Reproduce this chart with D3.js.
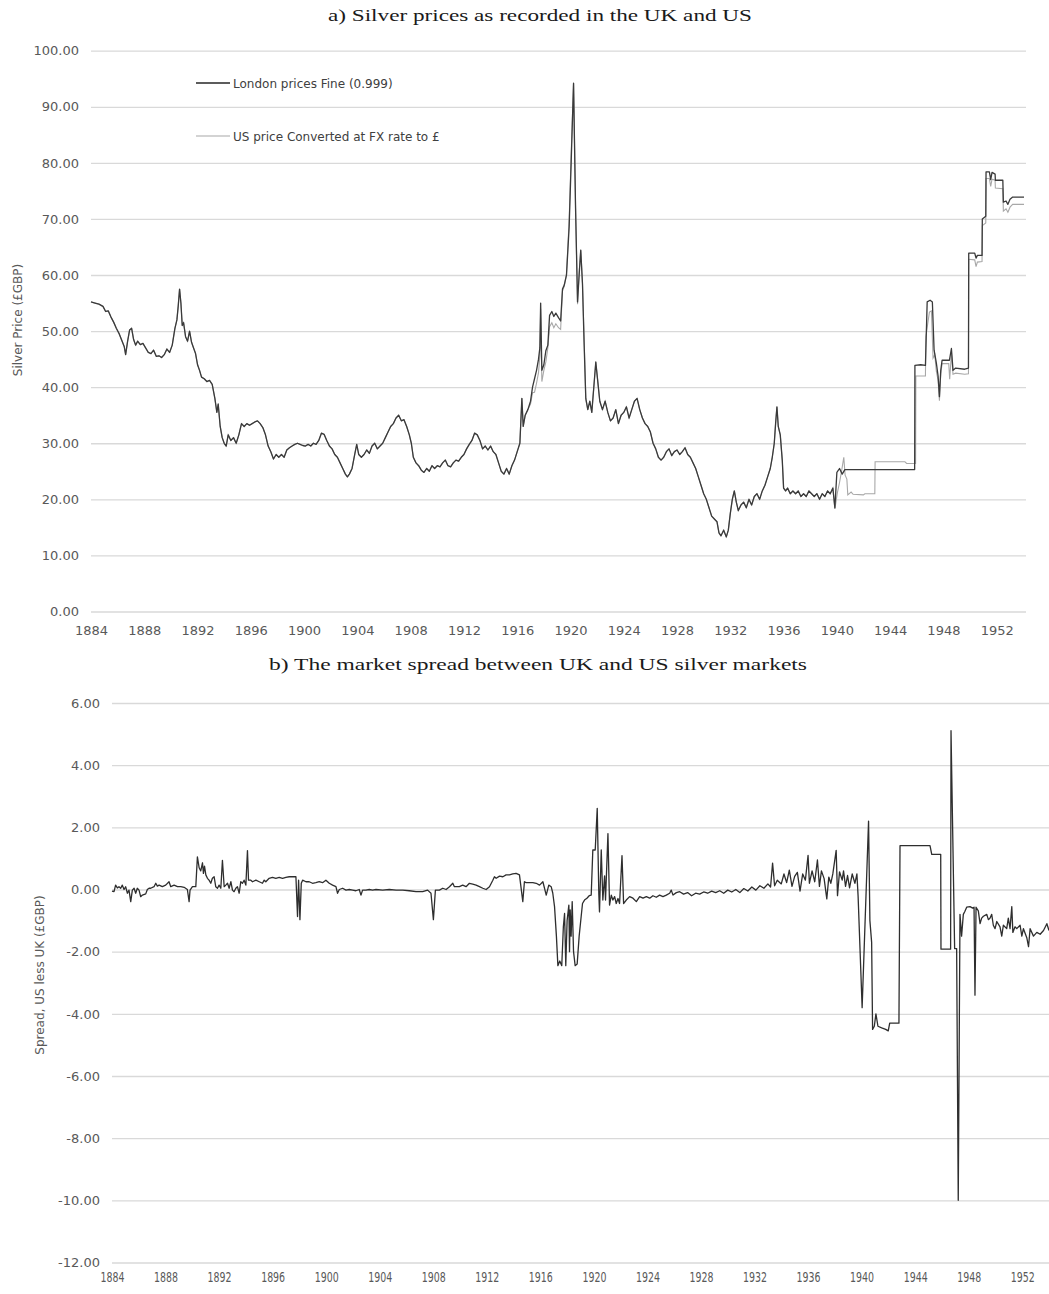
<!DOCTYPE html>
<html><head><meta charset="utf-8">
<script src="https://cdn.jsdelivr.net/npm/d3@7/dist/d3.min.js"></script>
<style>body{margin:0;background:#fff}svg{display:block}</style>
</head><body>
<svg id="chart" width="1049" height="1294"></svg>
<script>
// ---------- DATA ----------
const yearTicks = [1884,1888,1892,1896,1900,1904,1908,1912,1916,1920,1924,1928,1932,1936,1940,1944,1948,1952];
const priceTicks = [0,10,20,30,40,50,60,70,80,90,100];
const spreadTicks = [-12,-10,-8,-6,-4,-2,0,2,4,6];
const seriesNames = ["London prices Fine (0.999)", "US price Converted at FX rate to £"];

const ukDates = [
1884.0,1884.3,1884.6,1884.9,1885.1,1885.3,1885.5,1885.7,1885.9,1886.1,
1886.3,1886.5,1886.6,1886.75,1886.9,1887.05,1887.2,1887.35,1887.5,1887.7,
1887.9,1888.1,1888.3,1888.5,1888.7,1888.9,1889.1,1889.3,1889.5,1889.7,
1889.9,1890.1,1890.3,1890.45,1890.55,1890.65,1890.75,1890.85,1890.95,1891.1,
1891.25,1891.4,1891.55,1891.7,1891.85,1892.0,1892.15,1892.3,1892.5,1892.7,
1892.9,1893.1,1893.3,1893.45,1893.55,1893.7,1893.85,1894.0,1894.15,1894.3,
1894.5,1894.7,1894.9,1895.1,1895.3,1895.5,1895.7,1895.9,1896.1,1896.3,
1896.5,1896.7,1896.9,1897.1,1897.3,1897.5,1897.7,1897.9,1898.1,1898.3,
1898.5,1898.7,1898.9,1899.1,1899.3,1899.5,1899.7,1899.9,1900.1,1900.3,
1900.5,1900.7,1900.9,1901.1,1901.3,1901.5,1901.7,1901.9,1902.1,1902.3,
1902.5,1902.7,1902.9,1903.1,1903.25,1903.4,1903.6,1903.8,1903.95,1904.1,
1904.3,1904.5,1904.7,1904.9,1905.1,1905.3,1905.5,1905.7,1905.9,1906.1,
1906.3,1906.5,1906.7,1906.9,1907.1,1907.3,1907.5,1907.7,1907.9,1908.05,
1908.2,1908.4,1908.6,1908.8,1909.0,1909.2,1909.4,1909.6,1909.8,1910.0,
1910.2,1910.4,1910.6,1910.8,1911.0,1911.2,1911.4,1911.6,1911.8,1912.0,
1912.2,1912.4,1912.6,1912.8,1913.0,1913.2,1913.4,1913.6,1913.8,1914.0,
1914.2,1914.4,1914.6,1914.8,1915.0,1915.2,1915.4,1915.6,1915.8,1916.0,
1916.2,1916.35,1916.45,1916.6,1916.8,
1917.0,1917.15,1917.3,1917.45,1917.6,1917.7,1917.76,1917.85,1918.0,1918.15,
1918.3,1918.43,1918.6,1918.75,1918.9,1919.1,1919.26,1919.4,1919.53,1919.7,
1919.9,1920.05,1920.23,1920.38,1920.53,1920.65,1920.77,1920.9,1921.02,1921.15,
1921.3,1921.45,1921.6,1921.75,1921.9,1922.05,1922.2,1922.4,1922.6,1922.8,
1923.0,1923.2,1923.4,1923.6,1923.8,1924.0,1924.2,1924.4,1924.6,1924.8,
1925.0,1925.2,1925.4,1925.6,1925.8,1926.0,1926.2,1926.4,1926.6,1926.8,
1927.0,1927.2,1927.4,1927.6,1927.8,1928.0,1928.2,1928.4,1928.6,1928.8,
1929.0,1929.2,1929.4,1929.6,1929.8,1930.0,1930.2,1930.4,1930.6,1930.8,
1931.0,1931.15,1931.3,1931.5,1931.7,1931.85,1932.0,1932.15,1932.3,1932.45,
1932.6,1932.8,1933.0,1933.2,1933.4,1933.6,1933.8,1934.0,1934.2,1934.4,
1934.6,1934.8,1935.0,1935.15,1935.3,1935.4,1935.5,1935.6,1935.75,1935.9,
1936.0,1936.15,1936.3,1936.5,1936.7,1936.9,1937.1,1937.3,1937.5,1937.7,
1937.9,1938.1,1938.3,1938.5,1938.7,1938.9,1939.1,1939.3,1939.5,1939.7,
1939.85,1940.0,1940.2,1940.4,1940.6,1942.0,1943.5,1945.84,1945.86,1946.3,
1946.65,1946.78,1947.0,1947.17,1947.3,1947.47,1947.6,1947.7,1947.8,1947.9,
1948.45,1948.6,1948.72,1948.92,1949.6,1949.88,1949.9,1950.35,1950.45,1950.55,
1950.9,1950.92,1951.18,1951.2,1951.45,1951.55,1951.65,1951.88,1951.9,1952.46,
1952.5,1952.7,1952.84,1953.0,1953.2,1954.05];
const ukPrice = [
55.2,55.0,54.8,54.4,53.5,53.6,52.5,51.6,50.5,49.6,
48.4,47.2,45.8,48.2,50.2,50.5,48.5,47.5,48.2,47.6,
47.8,47.0,46.2,46.0,46.6,45.5,45.6,45.3,45.8,46.8,
46.2,47.5,50.5,52.0,54.5,57.5,55.0,51.0,51.5,49.0,
48.2,50.0,48.0,47.0,46.0,44.0,43.0,41.8,41.5,41.0,
41.2,40.5,38.0,35.5,37.0,33.0,31.0,30.0,29.5,31.5,
30.5,31.0,30.0,31.5,33.5,33.0,33.5,33.2,33.5,33.8,
34.0,33.5,32.8,31.5,29.5,28.5,27.2,28.0,27.5,28.0,
27.5,28.8,29.2,29.5,29.8,30.0,29.8,29.6,29.5,29.8,
29.5,30.0,29.8,30.5,31.8,31.6,30.5,29.5,29.0,28.0,
27.5,26.5,25.5,24.5,24.0,24.5,25.5,28.0,29.8,28.0,
27.5,28.0,28.8,28.2,29.5,30.0,29.0,29.5,30.0,31.0,
32.0,33.0,33.5,34.5,35.0,34.0,34.2,33.0,31.5,30.0,
27.5,26.5,26.0,25.2,24.8,25.5,25.0,26.0,25.5,26.0,
25.8,26.5,27.0,26.0,25.8,26.5,27.0,26.8,27.5,28.0,
29.0,29.8,30.5,31.8,31.5,30.5,29.0,29.5,28.8,29.5,
28.5,28.0,26.5,25.0,24.5,25.5,24.5,26.0,27.0,28.5,
30.0,38.0,33.0,35.0,36.0,
37.5,40.0,41.5,43.0,45.0,47.0,55.0,43.0,44.0,46.5,
47.5,52.8,53.5,52.6,53.2,52.4,51.8,57.5,58.2,60.0,
68.6,80.0,94.2,72.0,55.2,60.0,64.4,58.5,48.0,38.0,
36.0,37.5,35.5,40.0,44.5,41.0,37.5,36.0,37.5,35.5,
34.0,34.5,36.0,33.5,35.0,35.5,36.5,34.5,36.0,37.5,
38.0,36.0,34.5,33.5,33.0,32.0,30.0,29.0,27.5,27.0,
27.5,28.5,29.0,27.8,28.5,28.8,28.0,28.5,29.2,28.0,
27.5,26.5,25.5,24.0,22.5,21.0,20.0,18.5,17.0,16.5,
16.0,14.0,13.5,14.5,13.3,14.5,17.5,20.0,21.5,19.5,
18.0,19.0,19.5,18.5,20.0,19.0,20.5,21.0,20.0,21.5,
22.5,24.0,25.5,27.5,30.0,33.5,36.5,33.0,31.5,27.0,
22.0,21.5,22.0,21.0,21.5,21.0,21.5,20.5,21.0,20.5,
21.5,21.0,20.5,21.0,20.0,21.0,20.5,21.5,21.0,22.0,
18.5,24.8,25.5,24.5,25.3,25.3,25.3,25.3,43.9,44.0,
43.9,55.2,55.5,55.2,46.6,44.3,42.0,38.3,43.0,44.8,
44.8,46.9,43.0,43.4,43.2,43.4,63.9,63.9,63.0,63.5,
63.5,70.0,70.5,78.4,78.4,77.0,78.3,78.0,76.9,76.9,
73.0,73.2,72.6,73.5,73.9,73.9];

const usDates = [
1884.0,1884.3,1884.6,1884.9,1885.1,1885.3,1885.5,1885.7,1885.9,1886.1,
1886.3,1886.5,1886.6,1886.75,1886.9,1887.05,1887.2,1887.35,1887.5,1887.7,
1887.9,1888.1,1888.3,1888.5,1888.7,1888.9,1889.1,1889.3,1889.5,1889.7,
1889.9,1890.1,1890.3,1890.45,1890.55,1890.65,1890.75,1890.85,1890.95,1891.1,
1891.25,1891.4,1891.55,1891.7,1891.85,1892.0,1892.15,1892.3,1892.5,1892.7,
1892.9,1893.1,1893.3,1893.45,1893.55,1893.7,1893.85,1894.0,1894.15,1894.3,
1894.5,1894.7,1894.9,1895.1,1895.3,1895.5,1895.7,1895.9,1896.1,1896.3,
1896.5,1896.7,1896.9,1897.1,1897.3,1897.5,1897.7,1897.9,1898.1,1898.3,
1898.5,1898.7,1898.9,1899.1,1899.3,1899.5,1899.7,1899.9,1900.1,1900.3,
1900.5,1900.7,1900.9,1901.1,1901.3,1901.5,1901.7,1901.9,1902.1,1902.3,
1902.5,1902.7,1902.9,1903.1,1903.25,1903.4,1903.6,1903.8,1903.95,1904.1,
1904.3,1904.5,1904.7,1904.9,1905.1,1905.3,1905.5,1905.7,1905.9,1906.1,
1906.3,1906.5,1906.7,1906.9,1907.1,1907.3,1907.5,1907.7,1907.9,1908.05,
1908.2,1908.4,1908.6,1908.8,1909.0,1909.2,1909.4,1909.6,1909.8,1910.0,
1910.2,1910.4,1910.6,1910.8,1911.0,1911.2,1911.4,1911.6,1911.8,1912.0,
1912.2,1912.4,1912.6,1912.8,1913.0,1913.2,1913.4,1913.6,1913.8,1914.0,
1914.2,1914.4,1914.6,1914.8,1915.0,1915.2,1915.4,1915.6,1915.8,1916.0,
1916.2,1916.35,1916.45,1916.6,1916.8,
1917.0,1917.15,1917.3,1917.45,1917.6,1917.7,1917.76,1917.85,1918.0,1918.15,
1918.3,1918.43,1918.6,1918.75,1918.9,1919.1,1919.26,1919.4,1919.53,1919.7,
1919.9,1920.05,1920.23,1920.38,1920.53,1920.65,1920.77,1920.9,1921.02,1921.15,
1921.3,1921.45,1921.6,1921.75,1921.9,1922.05,1922.2,1922.4,1922.6,1922.8,
1923.0,1923.2,1923.4,1923.6,1923.8,1924.0,1924.2,1924.4,1924.6,1924.8,
1925.0,1925.2,1925.4,1925.6,1925.8,1926.0,1926.2,1926.4,1926.6,1926.8,
1927.0,1927.2,1927.4,1927.6,1927.8,1928.0,1928.2,1928.4,1928.6,1928.8,
1929.0,1929.2,1929.4,1929.6,1929.8,1930.0,1930.2,1930.4,1930.6,1930.8,
1931.0,1931.15,1931.3,1931.5,1931.7,1931.85,1932.0,1932.15,1932.3,1932.45,
1932.6,1932.8,1933.0,1933.2,1933.4,1933.6,1933.8,1934.0,1934.2,1934.4,
1934.6,1934.8,1935.0,1935.15,1935.3,1935.4,1935.5,1935.6,1935.75,1935.9,
1936.0,1936.15,1936.3,1936.5,1936.7,1936.9,1937.1,1937.3,1937.5,1937.7,
1937.9,1938.1,1938.3,1938.5,1938.7,1938.9,1939.1,1939.3,1939.5,1939.7,
1939.85,1940.04,1940.2,1940.35,1940.52,1940.62,1940.75,1940.82,1941.07,1941.22,
1941.99,1942.1,1942.85,1942.87,1945.11,1945.24,1945.91,1945.93,1946.65,1946.68,
1946.95,1947.1,1947.22,1947.35,1947.47,1947.6,1947.7,1947.8,1947.9,1948.4,
1948.47,1948.55,1948.6,1948.72,1948.92,1949.6,1949.88,1949.9,1950.35,1950.45,
1950.55,1950.9,1950.92,1951.18,1951.2,1951.45,1951.55,1951.65,1951.88,1951.9,
1952.46,1952.5,1952.7,1952.84,1953.0,1953.2,1954.05];
const usPrice = [
55.2,55.0,54.8,54.4,53.5,53.6,52.5,51.6,50.5,49.6,
48.4,47.2,45.8,48.2,50.2,50.5,48.5,47.5,48.2,47.6,
47.8,47.0,46.2,46.0,46.6,45.5,45.6,45.3,45.8,46.8,
46.2,47.5,50.5,52.0,54.5,57.5,55.0,51.0,51.5,49.0,
48.2,50.0,48.0,47.0,46.0,44.0,43.0,41.8,41.5,41.0,
41.2,40.5,38.0,35.5,37.0,33.0,31.0,30.0,29.5,31.5,
30.5,31.0,30.0,31.5,33.5,33.0,33.5,33.2,33.5,33.8,
34.0,33.5,32.8,31.5,29.5,28.5,27.2,28.0,27.5,28.0,
27.5,28.8,29.2,29.5,29.8,30.0,29.8,29.6,29.5,29.8,
29.5,30.0,29.8,30.5,31.8,31.6,30.5,29.5,29.0,28.0,
27.5,26.5,25.5,24.5,24.0,24.5,25.5,28.0,29.8,28.0,
27.5,28.0,28.8,28.2,29.5,30.0,29.0,29.5,30.0,31.0,
32.0,33.0,33.5,34.5,35.0,34.0,34.2,33.0,31.5,30.0,
27.5,26.5,26.0,25.2,24.8,25.5,25.0,26.0,25.5,26.0,
25.8,26.5,27.0,26.0,25.8,26.5,27.0,26.8,27.5,28.0,
29.0,29.8,30.5,31.8,31.5,30.5,29.0,29.5,28.8,29.5,
28.5,28.0,26.5,25.0,24.5,25.5,24.5,26.0,27.0,28.5,
30.0,38.0,33.0,35.0,36.0,
37.0,39.0,39.1,40.7,42.6,45.5,54.0,41.0,43.0,44.5,
47.0,50.8,51.5,50.6,51.3,50.6,50.3,57.2,58.0,60.2,
69.8,81.5,94.2,72.5,54.8,60.5,64.6,58.5,49.0,37.8,
36.0,37.5,35.5,40.0,44.5,41.0,37.5,36.0,37.5,35.5,
34.0,34.5,36.0,33.5,35.0,35.5,36.5,34.5,36.0,37.5,
38.0,36.0,34.5,33.5,33.0,32.0,30.0,29.0,27.5,27.0,
27.5,28.5,29.0,27.8,28.5,28.8,28.0,28.5,29.2,28.0,
27.5,26.5,25.5,24.0,22.5,21.0,20.0,18.5,17.0,16.5,
16.0,14.0,13.5,14.5,13.3,14.5,17.5,20.0,21.5,19.5,
18.0,19.0,19.5,18.5,20.0,19.0,20.5,21.0,20.0,21.5,
22.5,24.0,25.5,27.5,30.0,33.5,36.5,33.0,31.5,27.0,
22.0,21.5,22.0,21.0,21.5,21.0,21.5,20.5,21.0,20.5,
21.5,21.0,20.5,21.0,20.0,21.0,20.5,21.5,21.0,22.0,
18.3,21.2,23.0,25.0,27.5,24.3,23.6,20.8,21.3,20.9,
20.8,21.0,21.0,26.7,26.7,26.4,26.4,42.0,42.0,49.0,
53.4,53.6,45.2,45.8,42.8,41.2,37.6,42.4,44.2,44.2,
41.4,44.2,46.2,42.3,42.5,42.3,42.4,62.8,62.7,61.5,
62.3,62.4,68.8,69.3,77.2,77.2,75.8,77.1,76.9,75.5,
75.4,71.4,71.8,71.2,72.1,72.6,72.6];

const spreadDates = [
1884.0,1884.15,1884.27,1884.4,1884.52,1884.65,1884.77,1884.9,1885.02,1885.15,
1885.27,1885.4,1885.52,1885.65,1885.77,1885.89,1886.02,1886.14,1886.27,1886.52,
1886.64,1886.77,1886.89,1887.14,1887.27,1887.39,1887.52,1887.76,1888.01,1888.26,
1888.39,1888.64,1888.89,1889.14,1889.39,1889.63,1889.76,1889.83,1890.01,1890.26,
1890.38,1890.51,1890.63,1890.76,1890.83,1890.91,1891.01,1891.13,1891.25,1891.38,
1891.5,1891.63,1891.75,1891.88,1892.0,1892.13,1892.25,1892.38,1892.5,1892.63,
1892.75,1892.88,1893.0,1893.12,1893.25,1893.37,1893.5,1893.62,1893.75,1893.87,
1894.0,1894.12,1894.2,1894.37,1894.5,1894.75,1895.0,1895.24,1895.37,1895.49,
1895.74,1895.99,1896.24,1896.49,1896.74,1896.99,1897.24,1897.49,1897.74,1897.86,
1897.94,1898.04,1898.14,1898.24,1898.49,1898.73,1898.98,1899.23,1899.48,1899.73,
1899.98,1900.23,1900.48,1900.73,1900.85,1900.98,1901.23,1901.48,1901.73,1901.98,
1902.22,1902.47,1902.6,1902.72,1902.97,1903.22,1903.47,1903.72,1904.22,1904.72,
1905.22,1905.72,1906.21,1906.71,1907.21,1907.58,1907.83,1908.01,1908.16,1908.46,
1908.71,1908.96,1909.21,1909.46,1909.58,1909.7,1909.95,1910.2,1910.45,1910.7,
1910.95,1911.2,1911.45,1911.7,1911.95,1912.2,1912.45,1912.57,1912.7,1912.95,
1913.2,1913.44,1913.69,1913.94,1914.19,1914.44,1914.69,1914.81,1914.94,1915.19,
1915.44,1915.69,1915.94,1916.19,1916.44,1916.63,1916.81,1916.93,1917.06,1917.2,
1917.31,1917.45,1917.6,1917.72,1917.81,1917.9,1918.0,1918.13,1918.18,1918.23,
1918.3,1918.38,1918.48,1918.6,1918.75,1918.9,1919.05,1919.15,1919.3,1919.48,
1919.65,1919.8,1919.92,1920.1,1920.25,1920.37,1920.42,1920.55,1920.67,1920.8,
1920.87,1921.05,1921.17,1921.3,1921.42,1921.55,1921.67,1921.8,1921.92,1922.1,
1922.22,1922.42,1922.67,1922.92,1923.17,1923.42,1923.67,1923.92,1924.17,1924.41,
1924.66,1924.91,1925.16,1925.41,1925.66,1925.78,1925.91,1926.16,1926.41,1926.7,
1927.0,1927.3,1927.6,1927.9,1928.2,1928.5,1928.8,1929.1,1929.4,1929.7,
1930.0,1930.3,1930.6,1930.9,1931.2,1931.5,1931.8,1932.1,1932.4,1932.7,
1933.0,1933.2,1933.35,1933.5,1933.7,1934.0,1934.2,1934.4,1934.6,1934.8,
1935.0,1935.2,1935.4,1935.6,1935.8,1936.0,1936.1,1936.3,1936.5,1936.7,
1936.85,1937.0,1937.2,1937.4,1937.55,1937.7,1937.85,1938.1,1938.2,1938.35,
1938.55,1938.65,1938.8,1938.95,1939.1,1939.3,1939.5,1939.65,1939.74,1940.04,
1940.52,1940.62,1940.75,1940.82,1940.95,1941.07,1941.22,1941.5,1941.8,1941.99,
1942.1,1942.79,1942.87,1945.11,1945.24,1945.91,1945.93,1946.65,1946.68,1946.95,
1947.1,1947.22,1947.35,1947.47,1947.6,1947.72,1947.85,1948.1,1948.3,1948.4,
1948.47,1948.55,1948.72,1948.85,1948.97,1949.1,1949.35,1949.47,1949.6,1949.72,
1949.84,1949.97,1950.1,1950.34,1950.47,1950.59,1950.84,1950.96,1951.09,1951.22,
1951.3,1951.46,1951.59,1951.84,1951.97,1952.09,1952.34,1952.47,1952.59,1952.84,
1953.09,1953.34,1953.59,1953.84,1954.0];
const spreadValues = [
-0.05,-0.07,0.14,0.05,0.09,0.04,0.14,0.0,0.09,-0.12,
-0.02,-0.39,-0.02,0.04,-0.12,0.04,-0.02,-0.23,-0.18,-0.14,
0.0,0.04,0.04,0.09,0.2,0.11,0.14,0.09,0.14,0.25,
0.09,0.14,0.09,0.09,0.07,0.0,-0.39,-0.02,0.09,0.09,
1.05,0.7,0.6,0.86,0.52,0.75,0.47,0.36,0.3,0.2,
0.36,0.41,0.09,0.04,0.14,0.04,0.94,0.09,0.14,0.2,
0.04,0.25,-0.02,-0.07,0.04,0.09,-0.12,0.25,0.2,0.3,
0.14,1.25,0.3,0.3,0.25,0.3,0.25,0.2,0.3,0.25,
0.36,0.39,0.36,0.39,0.36,0.39,0.41,0.41,0.41,-0.87,
0.3,-0.97,0.2,0.3,0.25,0.25,0.2,0.22,0.25,0.22,
0.3,0.2,0.14,0.09,-0.12,0.0,0.04,-0.02,0.0,-0.02,
-0.04,0.0,-0.18,-0.02,-0.02,0.0,-0.02,0.0,-0.02,0.0,
-0.02,-0.02,-0.04,-0.07,-0.07,-0.02,-0.12,-0.97,-0.02,-0.02,
0.04,0.0,0.09,0.2,0.09,0.09,0.09,0.14,0.09,0.2,
0.17,0.14,0.09,0.04,0.0,0.09,0.3,0.41,0.36,0.43,
0.41,0.47,0.47,0.5,0.52,0.47,-0.39,0.25,0.22,0.22,
0.22,0.2,0.14,0.25,-0.18,0.14,0.09,-0.12,-0.55,-1.5,
-2.45,-2.3,-2.45,-1.2,-0.77,-2.45,-1.0,-0.5,-2.0,-0.66,
-1.5,-0.39,-2.0,-2.45,-2.4,-1.5,-0.87,-0.45,-0.34,-0.28,
-0.2,-0.18,1.27,1.27,2.61,-0.16,-0.72,1.27,-0.34,0.44,
-0.34,1.8,-0.5,-0.18,-0.34,-0.23,-0.45,-0.29,-0.45,1.09,
-0.45,-0.34,-0.23,-0.28,-0.39,-0.23,-0.28,-0.23,-0.28,-0.2,
-0.25,-0.18,-0.23,-0.18,-0.12,-0.02,-0.18,-0.1,-0.07,-0.15,
-0.1,-0.2,-0.12,-0.15,-0.08,-0.12,-0.05,-0.1,-0.04,-0.12,
-0.02,-0.08,0.0,-0.1,0.03,-0.05,0.08,-0.02,0.12,0.04,
0.18,0.08,0.85,0.12,0.3,0.18,0.5,0.22,0.62,0.1,
0.42,0.55,-0.05,0.5,0.3,1.1,0.2,0.6,0.25,0.95,
0.1,0.6,0.35,-0.3,0.4,0.2,0.5,1.26,-0.2,0.57,
0.3,0.6,0.1,0.45,0.05,0.5,0.2,0.5,-0.23,-3.8,
2.2,-1.0,-1.7,-4.5,-4.4,-4.0,-4.4,-4.45,-4.5,-4.55,
-4.3,-4.3,1.41,1.41,1.13,1.13,-1.92,-1.92,5.11,-1.9,
-1.9,-10.0,-0.8,-1.5,-0.8,-0.7,-0.57,-0.55,-0.6,-0.57,
-3.4,-0.57,-0.69,-1.1,-0.92,-0.86,-0.8,-0.97,-0.92,-0.8,
-1.15,-1.26,-1.03,-1.2,-1.5,-1.15,-1.26,-0.92,-1.26,-0.55,
-1.38,-1.2,-1.26,-1.15,-1.5,-1.26,-1.55,-1.84,-1.26,-1.5,
-1.38,-1.44,-1.32,-1.1,-1.32];

// ---------- DRAWING ----------
const svg = d3.select("#chart");
const fmt = d => d.toFixed(2);   // plain hyphen-minus like the reference
const tickFont = "'DejaVu Sans', sans-serif";
const gridColor = "#d9d9d9";
const labelColor = "#595959";

function styleAxis(g) {
  g.select(".domain").remove();
  g.selectAll(".tick line").attr("stroke", gridColor).attr("stroke-width", 1.3);
  g.selectAll(".tick text").attr("fill", labelColor).style("font-family", tickFont).style("font-size", "13px");
}

// Panel a
const xTop = d3.scaleLinear().domain([1884, 1954.2]).range([91, 1026]);
const yTop = d3.scaleLinear().domain([0, 100]).range([611.5, 50.7]);

svg.append("g").attr("transform", "translate(91,0)")
  .call(d3.axisLeft(yTop).tickValues(priceTicks).tickFormat(fmt).tickSize(-(1026 - 91)).tickPadding(12))
  .call(styleAxis);
svg.append("g").attr("transform", "translate(0,611.5)")
  .call(d3.axisBottom(xTop).tickValues(yearTicks).tickFormat(d3.format("d")).tickSize(0).tickPadding(14))
  .call(styleAxis);

const lineTop = d3.line().x(d => xTop(d[0])).y(d => yTop(d[1]));
svg.append("path").datum(d3.zip(usDates, usPrice))
  .attr("d", lineTop).attr("fill", "none").attr("stroke", "#a8a8a8").attr("stroke-width", 1.1);
svg.append("path").datum(d3.zip(ukDates, ukPrice))
  .attr("d", lineTop).attr("fill", "none").attr("stroke", "#3a3a3a").attr("stroke-width", 1.3)
  .attr("stroke-linejoin", "round");

// legend
const legend = svg.append("g");
[[83, "#262626", 1.3], [136, "#a8a8a8", 1.1]].forEach((s, i) => {
  legend.append("line").attr("x1", 196).attr("x2", 230).attr("y1", s[0]).attr("y2", s[0])
    .attr("stroke", s[1]).attr("stroke-width", s[2]);
  legend.append("text").attr("x", 233).attr("y", s[0] + 4.5).text(seriesNames[i])
    .attr("fill", "#404040").style("font-family", tickFont).style("font-size", "12px");
});

svg.append("text").attr("transform", "translate(18,320) rotate(-90)")
  .attr("text-anchor", "middle").attr("dominant-baseline", "central")
  .attr("fill", labelColor).style("font-family", tickFont).style("font-size", "12px")
  .text("Silver Price (£GBP)");

svg.append("text").attr("x", 540).attr("y", 21).attr("text-anchor", "middle")
  .attr("textLength", 424).attr("lengthAdjust", "spacingAndGlyphs")
  .attr("fill", "#1a1a1a").style("font-family", "'Liberation Serif', serif").style("font-size", "17px")
  .text("a) Silver prices as recorded in the UK and US");

// Panel b
const xBot = d3.scaleLinear().domain([1884, 1954.0]).range([112, 1049]);
const yBot = d3.scaleLinear().domain([-12, 6]).range([1262.5, 703]);

svg.append("g").attr("transform", "translate(112,0)")
  .call(d3.axisLeft(yBot).tickValues(spreadTicks).tickFormat(fmt).tickSize(-(1049 - 112)).tickPadding(12))
  .call(styleAxis);
const xb = svg.append("g").attr("transform", "translate(0,1262.5)")
  .call(d3.axisBottom(xBot).tickValues(yearTicks).tickFormat(d3.format("d")).tickSize(0).tickPadding(10))
  .call(styleAxis);
xb.selectAll(".tick text").attr("textLength", 24).attr("lengthAdjust", "spacingAndGlyphs").style("font-size", "14px");

const lineBot = d3.line().x(d => xBot(d[0])).y(d => yBot(d[1]));
svg.append("path").datum(d3.zip(spreadDates, spreadValues))
  .attr("d", lineBot).attr("fill", "none").attr("stroke", "#2e2e2e").attr("stroke-width", 1.3)
  .attr("stroke-linejoin", "round");

svg.append("text").attr("transform", "translate(40,975) rotate(-90)")
  .attr("text-anchor", "middle").attr("dominant-baseline", "central")
  .attr("fill", labelColor).style("font-family", tickFont).style("font-size", "12px")
  .text("Spread, US less UK (£GBP)");

svg.append("text").attr("x", 538).attr("y", 670).attr("text-anchor", "middle")
  .attr("textLength", 538).attr("lengthAdjust", "spacingAndGlyphs")
  .attr("fill", "#1a1a1a").style("font-family", "'Liberation Serif', serif").style("font-size", "17px")
  .text("b) The market spread between UK and US silver markets");
</script>
</body></html>
